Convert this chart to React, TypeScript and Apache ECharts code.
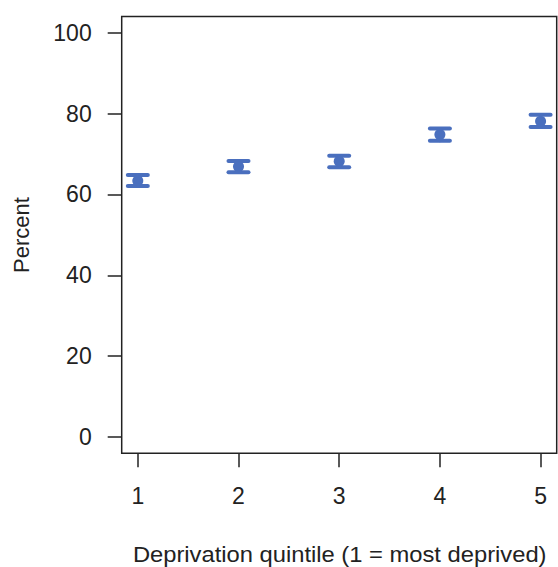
import React, { useEffect, useRef } from "react";
import * as echarts from "echarts";

const quintiles = [1, 2, 3, 4, 5];
const percentValues = [63.4, 66.9, 68.2, 74.8, 78.1];
const lowerCI = [62.1, 65.5, 66.7, 73.3, 76.7];
const upperCI = [64.8, 68.3, 69.6, 76.3, 79.7];
const yTicks = [0, 20, 40, 60, 80, 100];
const xTicks = [1, 2, 3, 4, 5];

const COLOR = "#4A6FBE";
const FONT = "'Liberation Sans', Arial, Helvetica, sans-serif";
const INK = "#222222";

export default function App() {
  const ref = useRef<HTMLDivElement | null>(null);

  useEffect(() => {
    if (!ref.current) return;
    const chart = echarts.init(ref.current, undefined, { renderer: "svg" });
    const errData = quintiles.map((q, i) => [q, lowerCI[i], upperCI[i]]);
    const ptData = quintiles.map((q, i) => [q, percentValues[i]]);
    chart.setOption({
      animation: false,
      backgroundColor: "#ffffff",
      grid: {
        left: 121.7,
        right: 1.3,
        top: 16.5,
        bottom: 113.7,
        show: true,
        borderColor: INK,
        borderWidth: 1.5,
        backgroundColor: "transparent",
      },
      xAxis: {
        type: "value",
        min: 0.84,
        max: 5.16,
        axisLine: { show: false, onZero: false },
        splitLine: { show: false },
        axisTick: {
          show: true,
          inside: false,
          length: 14,
          customValues: xTicks,
          lineStyle: { color: INK, width: 1.5 },
        },
        axisLabel: {
          show: true,
          customValues: xTicks,
          margin: 43,
          verticalAlign: "middle",
          color: INK,
          fontSize: 23,
          fontFamily: FONT,
        },
      },
      yAxis: {
        type: "value",
        min: -4,
        max: 104,
        axisLine: { show: false, onZero: false },
        splitLine: { show: false },
        axisTick: {
          show: true,
          inside: false,
          length: 14,
          customValues: yTicks,
          lineStyle: { color: INK, width: 1.5 },
        },
        axisLabel: {
          show: true,
          customValues: yTicks,
          margin: 30,
          color: INK,
          fontSize: 23,
          fontFamily: FONT,
        },
      },
      graphic: [
        {
          type: "text",
          x: 339.7,
          y: 554,
          scaleX: 1.08,
          style: {
            text: "Deprivation quintile (1 = most deprived)",
            fill: INK,
            fontSize: 22,
            fontFamily: FONT,
            align: "center",
            verticalAlign: "middle",
          },
        },
        {
          type: "text",
          x: 21,
          y: 235,
          rotation: Math.PI / 2,
          style: {
            text: "Percent",
            fill: INK,
            fontSize: 22,
            fontFamily: FONT,
            align: "center",
            verticalAlign: "middle",
          },
        },
      ],
      series: [
        {
          type: "custom",
          data: errData,
          renderItem: (params: any, api: any) => {
            const x = api.value(0);
            const lo = api.coord([x, api.value(1)]);
            const hi = api.coord([x, api.value(2)]);
            const hw = 10;
            const style = { stroke: COLOR, lineWidth: 4, lineCap: "round" };
            return {
              type: "group",
              children: [
                { type: "line", shape: { x1: lo[0], y1: lo[1], x2: hi[0], y2: hi[1] }, style: { ...style, lineWidth: 3 } },
                { type: "line", shape: { x1: lo[0] - hw, y1: lo[1], x2: lo[0] + hw, y2: lo[1] }, style },
                { type: "line", shape: { x1: hi[0] - hw, y1: hi[1], x2: hi[0] + hw, y2: hi[1] }, style },
              ],
            };
          },
          z: 2,
        },
        {
          type: "scatter",
          data: ptData,
          symbol: "circle",
          symbolSize: 11,
          itemStyle: { color: COLOR, opacity: 1 },
          z: 3,
        },
      ],
    });
    return () => chart.dispose();
  }, []);

  return (
    <div
      ref={ref}
      style={{ position: "fixed", left: 0, top: 0, width: 558, height: 567, background: "#fff" }}
    />
  );
}
